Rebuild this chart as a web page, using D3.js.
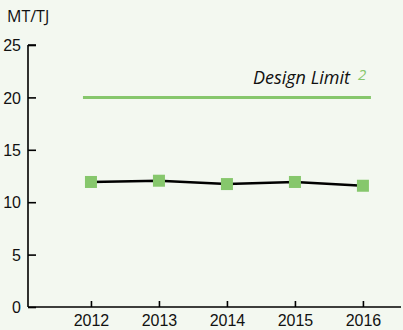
<!DOCTYPE html>
<html>
<head>
<meta charset="utf-8">
<script src="https://cdn.jsdelivr.net/npm/d3@7/dist/d3.min.js"></script>
<style>
  html, body { margin: 0; padding: 0; background: #f3f8f0; }
  svg { display: block; font-family: "Open Sans", "DejaVu Sans", sans-serif; }
</style>
</head>
<body>
<script>
// Emission intensity per year, with the design limit
const years = [2012, 2013, 2014, 2015, 2016];
const values = [11.93, 12.05, 11.73, 11.93, 11.57];
const designLimit = 20;
const yTicks = [0, 5, 10, 15, 20, 25];
const unitLabel = "MT/TJ";
const limitLabel = "Design Limit";

const W = 403, H = 330;
const green = "#86c76c";

const svg = d3.select("body").append("svg").attr("width", W).attr("height", H);

const x = d3.scaleLinear().domain([2011.074, 2016.56]).range([28, 401]);
const y = d3.scaleLinear().domain([0, 25]).range([307, 45]);

// y axis (ticks pointing inward)
const yAxis = svg.append("g").attr("transform", "translate(28,0)")
  .call(d3.axisRight(y).tickValues(yTicks).tickSize(8).tickFormat(d3.format("d")));
yAxis.select(".domain").attr("d", `M0,${y(25)}H8M0,${y(25)}V${y(0)}`).attr("stroke", "#000").attr("stroke-width", 1.6);
yAxis.selectAll(".tick line").attr("stroke", "#000").attr("stroke-width", 1.6);
yAxis.selectAll(".tick text").attr("x", -7).attr("text-anchor", "end")
  .attr("font-size", 16).attr("fill", "#111").attr("dy", "0.35em");

// x axis (ticks pointing up)
const xAxis = svg.append("g").attr("transform", `translate(0,${y(0)})`)
  .call(d3.axisTop(x).tickValues(years).tickSize(6).tickFormat(d3.format("d")));
xAxis.select(".domain").attr("d", `M28,0H401`).attr("stroke", "#000").attr("stroke-width", 1.6);
xAxis.selectAll(".tick line").attr("stroke", "#000").attr("stroke-width", 1.6);
xAxis.selectAll(".tick text").attr("y", 19).attr("dy", "0")
  .attr("font-size", 16).attr("fill", "#111");

// unit label
svg.append("text").attr("x", 7).attr("y", 22).attr("font-size", 16).attr("fill", "#111").text(unitLabel);

// design limit
svg.append("line")
  .attr("x1", x(years[0]) - 8).attr("x2", x(years[years.length - 1]) + 8)
  .attr("y1", y(designLimit)).attr("y2", y(designLimit))
  .attr("stroke", green).attr("stroke-width", 3);
svg.append("text").attr("x", 350).attr("y", 84).attr("text-anchor", "end")
  .attr("font-size", 18).attr("font-style", "italic").attr("fill", "#111").text(limitLabel);
svg.append("text").attr("x", 358).attr("y", 80).attr("font-size", 15)
  .attr("font-style", "italic").attr("fill", green).text("2");

// series line
svg.append("path").datum(years.map((yr, i) => [yr, values[i]]))
  .attr("fill", "none").attr("stroke", "#000").attr("stroke-width", 2.5)
  .attr("d", d3.line().x(d => x(d[0])).y(d => y(d[1])));

// square markers
const s = 12;
svg.selectAll("rect.pt").data(years).join("rect").attr("class", "pt")
  .attr("x", d => x(d) - s / 2).attr("y", (d, i) => y(values[i]) - s / 2)
  .attr("width", s).attr("height", s).attr("fill", green);
</script>
</body>
</html>
